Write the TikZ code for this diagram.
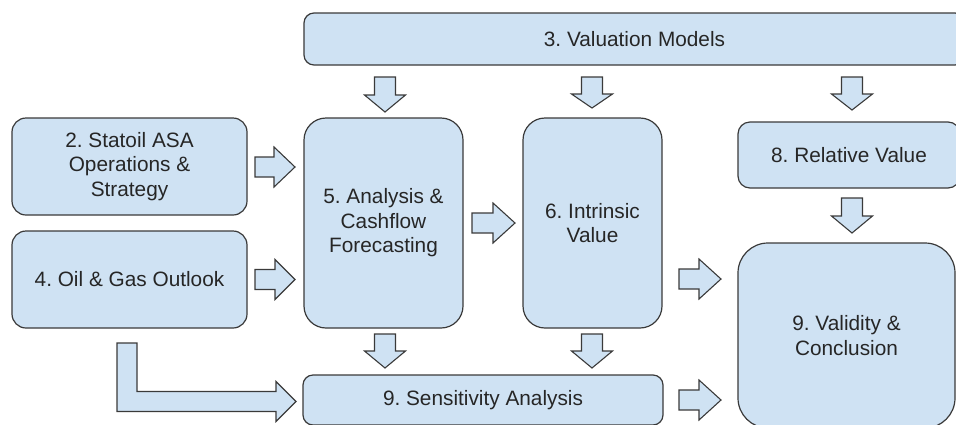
\documentclass[tikz,border=0pt]{standalone}
\usepackage{fontspec}
\setmainfont{Liberation Sans}
\frenchspacing
\definecolor{boxfill}{HTML}{CFE2F3}
\definecolor{boxline}{HTML}{3A3A3A}
\tikzset{
  box/.style={draw=boxline, fill=boxfill, line width=1.2bp, inner sep=0pt, align=center,
              font=\fontsize{20.8bp}{24.5bp}\selectfont\frenchspacing, text=black!85},
  blk/.style={draw=boxline, fill=boxfill, line width=1.1bp, line join=miter}
}
% right block arrow: x0, head start, tip, centre y
\newcommand\rblk[4]{\draw[blk] (#1,{#4-10}) -- (#2,{#4-10}) -- (#2,{#4-20}) -- (#3,#4) -- (#2,{#4+20}) -- (#2,{#4+10}) -- (#1,{#4+10}) -- cycle;}
% down block arrow: centre x, top y, head start y, tip y
\newcommand\dblk[4]{\draw[blk] ({#1-10.5},#2) -- ({#1+10.5},#2) -- ({#1+10.5},#3) -- ({#1+20.5},#3) -- (#1,#4) -- ({#1-20.5},#3) -- ({#1-10.5},#3) -- cycle;}
\begin{document}
\begin{tikzpicture}[x=1bp,y=-1bp]
\useasboundingbox (0,0) rectangle (956,424);
\clip (0,0) rectangle (956,424);
% boxes
\node[box, rounded corners=10bp, minimum width=661bp, minimum height=52bp] (b3) at (634.5,39) {3. Valuation Models};
\node[box, rounded corners=14bp, minimum width=235bp, minimum height=97bp] (b2) at (129.5,166.5) {2. Statoil ASA\\Operations \&\\Strategy};
\node[box, rounded corners=14bp, minimum width=235bp, minimum height=97bp] (b4) at (129.5,279.5) {4. Oil \& Gas Outlook};
\node[box, rounded corners=22bp, minimum width=159bp, minimum height=210bp] (b5) at (383.5,223) {5. Analysis \&\\Cashflow\\Forecasting};
\node[box, rounded corners=22bp, minimum width=139bp, minimum height=210bp] (b6) at (592.5,223) {6. Intrinsic\\Value};
\node[box, rounded corners=12bp, minimum width=222bp, minimum height=66bp] (b8) at (849,155) {8. Relative Value};
\node[box, rounded corners=30bp, minimum width=217bp, minimum height=185bp] (b9) at (846.5,335.5) {9. Validity \&\\Conclusion};
\node[box, rounded corners=10bp, minimum width=360bp, minimum height=50bp] (b10) at (483,400) {9. Sensitivity Analysis};
% down arrows
\dblk{385}{77}{95}{112}
\dblk{592}{77}{94}{108}
\dblk{852}{77}{94}{110}
\dblk{852}{198}{216}{233}
\dblk{385}{334}{351}{368}
\dblk{592}{334}{351}{368}
% right arrows
\rblk{255}{274}{295}{167}
\rblk{255}{275}{295}{279.5}
\rblk{472}{493}{515}{223}
\rblk{679}{699}{721}{279}
\rblk{679}{699}{721}{400}
% L-shaped arrow from box 4 to sensitivity analysis
\draw[blk] (117,343) -- (137,343) -- (137,391.5) -- (276,391.5) -- (276,381.5) -- (296,401.5) -- (276,421.5) -- (276,411.5) -- (117,411.5) -- cycle;
\end{tikzpicture}
\end{document}
